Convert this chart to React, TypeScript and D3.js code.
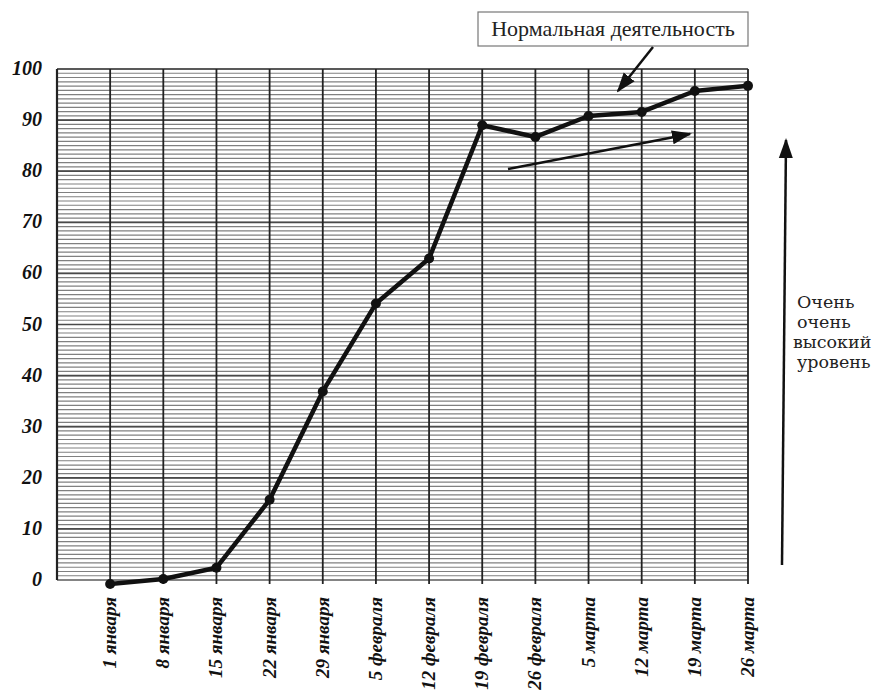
import React from 'react';
import * as d3 from 'd3';

// Weekly values.
const dates = [
  '1 января', '8 января', '15 января', '22 января', '29 января',
  '5 февраля', '12 февраля', '19 февраля', '26 февраля',
  '5 марта', '12 марта', '19 марта', '26 марта',
];
const values = [-0.8, 0.2, 2.4, 15.7, 36.9, 54.1, 62.9, 89, 86.7, 90.8, 91.6, 95.7, 96.7];
const yTicks = [0, 10, 20, 30, 40, 50, 60, 70, 80, 90, 100];
const noteTitle = 'Нормальная деятельность';
const sideNote = ['Очень', 'очень', 'высокий', 'уровень'];

const W = 877;
const H = 695;
const left = 57;
const right = 748;
const top = 69;
const bottom = 580;

const serif = '"Liberation Serif"';
const wideSerif = '"DejaVu Serif"';

export default function App() {
  // slot 0 is the empty column left of "1 января"
  const x = d3.scaleLinear().domain([0, dates.length]).range([left, right]);
  const y = d3.scaleLinear().domain([0, 100]).range([bottom, top]);

  const minor = d3.range(0, 100, 10 / 12);
  const line = d3.line<number>().x((_, i) => x(i + 1)).y((d) => y(d));

  return (
    <svg width={W} height={H} style={{ position: 'absolute', left: 0, top: 0, background: '#fff' }}>
      <defs>
        <marker id="headBig" viewBox="0 0 10 10" refX="9" refY="5" markerWidth="20" markerHeight="20"
          markerUnits="userSpaceOnUse" orient="auto">
          <path d="M0,1.5 L10,5 L0,8.5 z" fill="#111" />
        </marker>
      </defs>

      {/* dense horizontal ruling */}
      {minor.map((v, i) => (
        <line key={'m' + i} x1={left} x2={right} y1={y(v)} y2={y(v)} stroke="#808080" strokeWidth={1.2} />
      ))}
      {yTicks.map((t) => (
        <line key={'g' + t} x1={left} x2={right} y1={y(t)} y2={y(t)}
          stroke={t === 100 ? '#222' : '#4a4a4a'} strokeWidth={t === 0 ? 1 : 1.7} />
      ))}

      {/* vertical lines at each date, left and right borders */}
      <line x1={left} x2={left} y1={top} y2={bottom} stroke="#222" strokeWidth={2.2} />
      {dates.map((d, i) => (
        <line key={d} x1={x(i + 1)} x2={x(i + 1)} y1={top} y2={bottom + 4} stroke="#222" strokeWidth={1.8} />
      ))}

      {/* y labels */}
      {yTicks.map((t) => (
        <text key={'yl' + t} x={42} y={y(t) + 6} textAnchor="end"
          style={{ fontFamily: serif, fontStyle: 'italic', fontWeight: 'bold', fontSize: 20 }} fill="#111">{t}</text>
      ))}

      {/* x labels, rotated */}
      {dates.map((d, i) => (
        <text key={'xl' + d} transform={`translate(${x(i + 1) + 6},597) rotate(-90)`} textAnchor="end"
          style={{ fontFamily: serif, fontStyle: 'italic', fontWeight: 'bold', fontSize: 19 }} fill="#111">{d}</text>
      ))}

      {/* series */}
      <path d={line(values) ?? ''} fill="none" stroke="#111" strokeWidth={4.5} strokeLinejoin="round" />
      {values.map((v, i) => (
        <circle key={'p' + i} cx={x(i + 1)} cy={y(v)} r={5} fill="#111" />
      ))}

      {/* callout */}
      <rect x={478} y={12} width={270} height={34} fill="#fff" stroke="#777" strokeWidth={1.2} />
      <text x={613} y={36} textAnchor="middle" style={{ fontFamily: serif, fontSize: 22 }} fill="#222">{noteTitle}</text>
      <line x1={653} y1={47} x2={618} y2={91} stroke="#111" strokeWidth={2.5} markerEnd="url(#headBig)" />
      <line x1={508} y1={169} x2={690} y2={134} stroke="#111" strokeWidth={2.5} markerEnd="url(#headBig)" />

      {/* side arrow and label */}
      <line x1={782} y1={565} x2={786} y2={140} stroke="#111" strokeWidth={2.5} markerEnd="url(#headBig)" />
      {sideNote.map((s, i) => (
        <text key={s + i} x={i === 2 ? 793 : 797} y={308 + i * 20}
          style={{ fontFamily: wideSerif, fontSize: 17.5 }} fill="#222">{s}</text>
      ))}
    </svg>
  );
}
